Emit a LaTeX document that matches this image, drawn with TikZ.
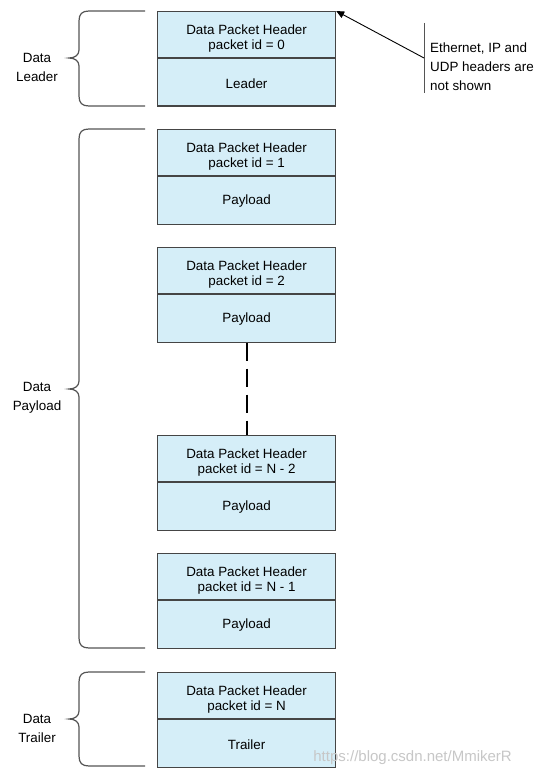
\documentclass[tikz,border=0pt]{standalone}
\usepackage{fontspec}
\setmainfont{Liberation Sans}
\usetikzlibrary{arrows.meta}
\definecolor{boxfill}{HTML}{D5EEF8}
\definecolor{boxline}{HTML}{454545}
\definecolor{bracecol}{HTML}{555555}
\newcommand\mybrace[3]{%
  \draw[bracestyle] (145,#1) -- (89,#1) .. controls (82,#1) and (79,#1+3) .. (79,#1+10)
    -- (79,#3-8) .. controls (79,#3-3) and (75,#3) .. (69,#3)
    .. controls (75,#3) and (79,#3+3) .. (79,#3+8)
    -- (79,#2-10) .. controls (79,#2-3) and (82,#2) .. (89,#2) -- (145,#2);}
\begin{document}
\begin{tikzpicture}[x=1pt,y=-1pt,
  pkt/.style={draw=boxline, line width=1.2pt, fill=boxfill, minimum width=178pt,
    minimum height=94.5pt, anchor=north west, inner sep=0pt},
  divider/.style={draw=boxline, line width=1.2pt},
  txt/.style={font=\fontsize{13.4}{15}\selectfont, align=center, inner sep=0pt},
  lbl/.style={font=\fontsize{13.4}{18.5}\selectfont, align=center, inner sep=0pt},
  bracestyle/.style={draw=bracecol, line width=1.2pt},
  dots/.style={line width=2pt, dash pattern=on 18pt off 8pt},
  note/.style={draw=bracecol, line width=1pt},
  pointer/.style={line width=0.9pt, -{Triangle[length=8pt,width=7pt]}}]
\useasboundingbox (0,0) rectangle (538,778);
\fill[white] (0,0) rectangle (538,778);
\foreach \i/\y/\id/\body in {0/11/0/Leader, 1/129/1/Payload, 2/247/2/Payload,
    3/435/N - 2/Payload, 4/553/N - 1/Payload, 5/672/N/Trailer}{
  \node[pkt] (b\i) at (157,\y) {};
  \draw[divider] ([yshift=-47pt]b\i.north west) -- ([yshift=-47pt]b\i.north east);
  \node[txt] (h\i) at ([yshift=-28pt]b\i.north) {Data Packet Header\\packet id = \id};
  \node[txt] (t\i) at ([yshift=-72.5pt]b\i.north) {\body};
}
\draw[dots] (b2.south) -- (b3.north);
% braces
\mybrace{11}{106}{58}
\mybrace{129}{648}{389}
\mybrace{672}{766}{719}
\node[lbl] (lbl0) at (37,67.5) {Data\\Leader};
\node[lbl] (lbl1) at (37,398) {Data\\Payload};
\node[lbl] (lbl2) at (37,728.5) {Data\\Trailer};
% note
\coordinate (nt) at (424,23);
\coordinate (nb) at (424,93);
\coordinate (na) at (424,58);
\draw[note] (nt) -- (nb);
\node[font=\fontsize{13.4}{19}\selectfont, inner sep=0pt, align=left, anchor=west] (nx) at (430,67) {Ethernet, IP and\\UDP headers are\\not shown};
\draw[pointer] (na) -- (b0.north east);
% watermark
\node[font=\fontsize{15}{15}\selectfont, text=black!22, anchor=east, inner sep=0pt] (wm) at (512,758) {https://blog.csdn.net/MmikerR};
\end{tikzpicture}
\end{document}
